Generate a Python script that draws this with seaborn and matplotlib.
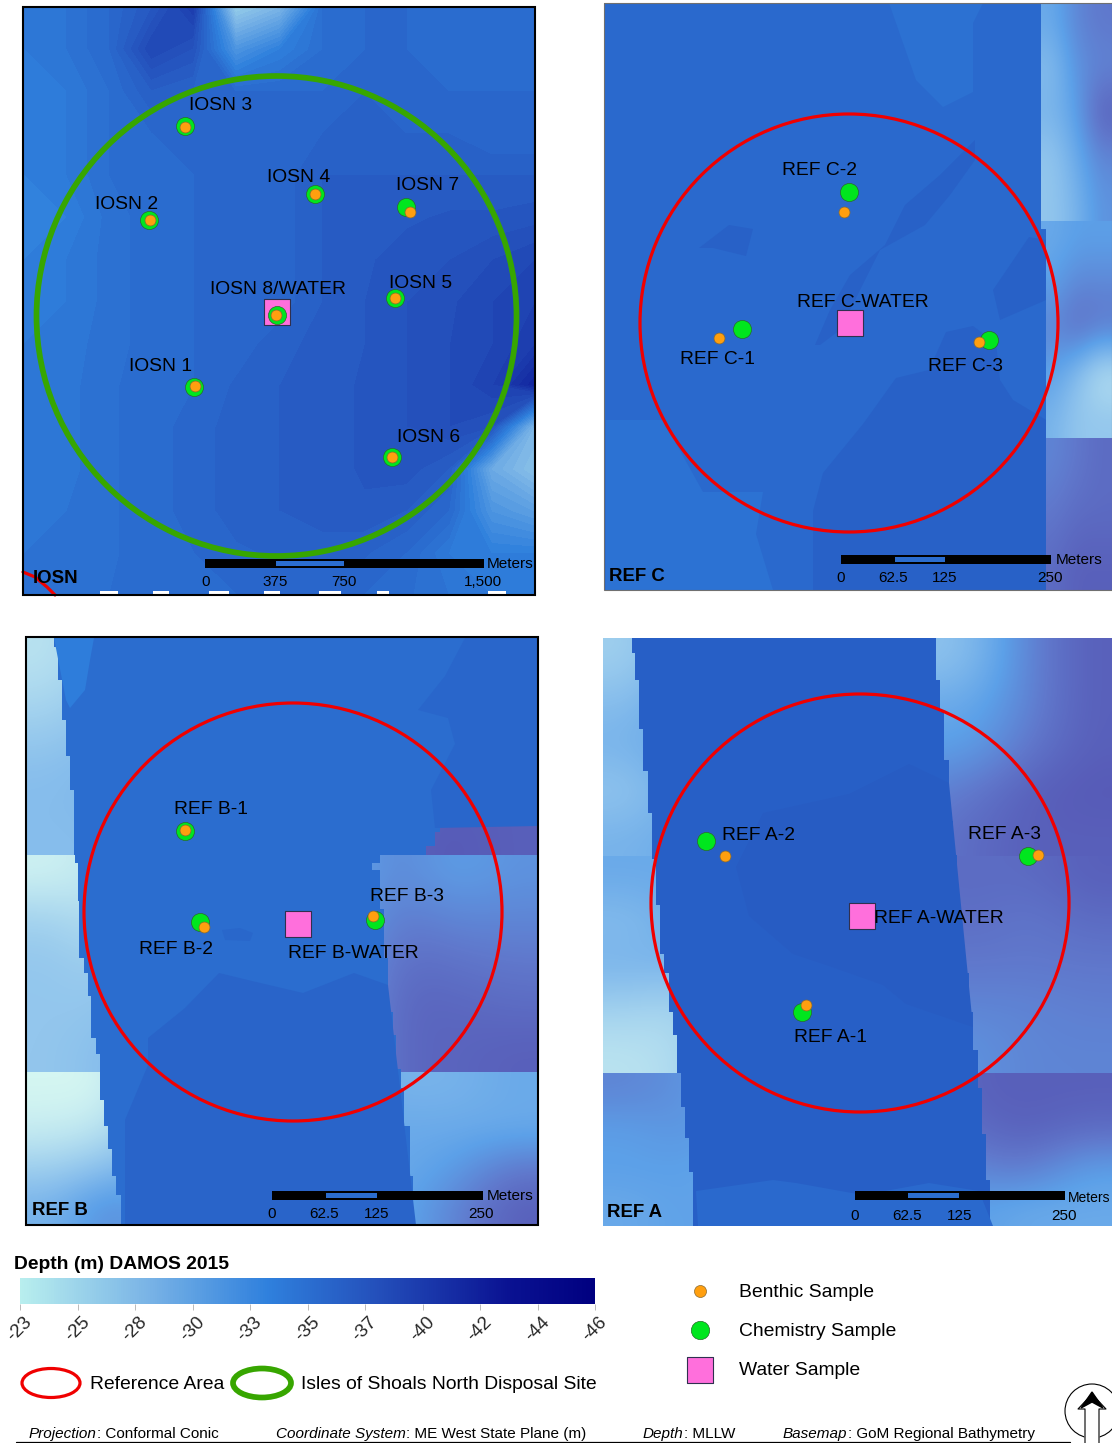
import numpy as np
import pandas as pd
import seaborn as sns
import matplotlib.pyplot as plt
from matplotlib.cm import ScalarMappable
from matplotlib.colors import LinearSegmentedColormap, Normalize
from matplotlib.patches import Circle, Ellipse, Rectangle

# Sample stations (page pixels)
STATIONS = ['IOSN 1', 'IOSN 2', 'IOSN 3', 'IOSN 4', 'IOSN 5', 'IOSN 6', 'IOSN 7', 'IOSN 8',
            'REF C-1', 'REF C-2', 'REF C-3', 'REF B-1', 'REF B-2', 'REF B-3',
            'REF A-1', 'REF A-2', 'REF A-3']
CHEM_X = [194, 149, 185, 315, 395, 392, 406, 277, 742, 849, 989, 185, 200, 375, 802, 706, 1028]
CHEM_Y = [387, 220, 126, 194, 298, 457, 207, 315, 329, 192, 340, 831, 922, 920, 1012, 841, 856]
BENTHIC_X = [195, 150, 185, 315, 395, 392, 410, 276, 719, 844, 979, 185, 204, 373, 806, 725, 1038]
BENTHIC_Y = [386, 220, 127, 194, 298, 457, 212, 315, 338, 212, 342, 830, 927, 916, 1005, 856, 855]
WATER_X = [277, 850, 298, 862]
WATER_Y = [312, 323, 924, 916]

LABEL_TEXT = ['IOSN 3', 'IOSN 4', 'IOSN 7', 'IOSN 2', 'IOSN 8/WATER', 'IOSN 5', 'IOSN 1', 'IOSN 6',
              'REF C-2', 'REF C-WATER', 'REF C-1', 'REF C-3',
              'REF B-1', 'REF B-3', 'REF B-2', 'REF B-WATER',
              'REF A-2', 'REF A-3', 'REF A-WATER', 'REF A-1']
LABEL_X = [221, 299, 428, 127, 278, 421, 161, 429, 820, 863, 718, 966, 211, 407, 176, 353, 758, 1004, 939, 831]
LABEL_Y = [104, 176, 184, 203, 288, 282, 365, 436, 169, 301, 358, 365, 808, 895, 948, 952, 834, 833, 917, 1036]

# Panels: name, left, right, top, bottom
PANEL_NAMES = ['IOSN', 'REF C', 'REF B', 'REF A']
PANEL_LEFT = [23, 604, 26, 603]
PANEL_RIGHT = [535, 1112, 538, 1112]
PANEL_TOP = [7, 3, 637, 638]
PANEL_BOTTOM = [595, 590, 1225, 1226]
NAME_X = [33, 609, 32, 607]
NAME_Y = [577, 575, 1209, 1211]

# Site circles: centre and radius
CIRCLE_X = [276.5, 849, 293, 860]
CIRCLE_Y = [316, 323, 912, 903]
CIRCLE_R = [240, 209, 209, 209]
CIRCLE_COLOR = ['#37a600', '#f00000', '#f00000', '#f00000']

# Scale bars
BAR_LEFT = [205, 841, 272, 855]
BAR_RIGHT = [484, 1051, 483, 1065]
BAR_TOP = [559, 555, 1191, 1191]
SEG_LEFT = [276, 895, 326, 908]
SEG_RIGHT = [344, 945, 377, 959]
SCALE_TEXT = [['0', '375', '750', '1,500'], ['0', '62.5', '125', '250'],
              ['0', '62.5', '125', '250'], ['0', '62.5', '125', '250']]
SCALE_X = [[206, 275, 344, 483], [841, 893, 945, 1050], [272, 324, 377, 481], [855, 907, 960, 1064]]
SCALE_Y = [580, 577, 1213, 1214]
METERS_X = [510, 1079, 510, 1089]
METERS_Y = [562, 559, 1195, 1196]
METERS_SIZE = [11.1, 11.1, 11.1, 10]

# Depth colour ramp
DEPTH_TICKS = [-23, -25.3, -27.6, -29.9, -32.2, -34.5, -36.8, -39.1, -41.4, -43.7, -46]
DEPTH_LABELS = ['-23', '-25', '-28', '-30', '-33', '-35', '-37', '-40', '-42', '-44', '-46']
ramp = LinearSegmentedColormap.from_list('depth', [
    (0.0, '#b8eeee'), (0.22, '#7ab4e6'), (0.43, '#2f80dd'), (0.62, '#2450bb'),
    (0.85, '#0a1292'), (1.0, '#000080')]).reversed()
regional = LinearSegmentedColormap.from_list('regional', [
    (0.0, '#d4f6f2'), (0.4, '#86bdec'), (0.6, '#5ca0e8'), (0.8, '#6078cc'), (1.0, '#5554b2')]).reversed()
depth_norm = Normalize(-46, -23)
regional_norm = Normalize(-37, -22)

# IOSN survey, depth grid (x = 23..535, y = 7..595)
IOSN_DEPTH = [
    [-33.5, -34, -35, -36.5, -39, -26, -28, -34.5, -35, -35, -34.5, -34.5, -35],
    [-33.5, -34, -35, -38, -37, -31, -33, -34.5, -35, -35, -34.5, -34.5, -34.5],
    [-33, -33.5, -34.5, -36, -35.5, -35, -35, -35, -35.5, -35, -35, -35, -35],
    [-33, -33.5, -34.5, -35, -35, -35, -35, -35.5, -35.5, -35.5, -35.5, -35, -35],
    [-33, -33.5, -34.5, -34.8, -35, -35, -35.2, -36, -36, -36, -36, -36, -36],
    [-32.5, -33, -34.2, -34.8, -35, -35, -35.2, -36, -36, -36.4, -36.6, -36.6, -36.8],
    [-33, -33.5, -34.2, -34.8, -35, -35, -35.2, -36, -36.4, -36.8, -37, -37.5, -38],
    [-33, -33.5, -34.2, -34.8, -35, -35, -35.2, -36, -36.5, -37, -37.4, -38, -38.5],
    [-33.5, -33.8, -34.2, -34.8, -35, -35.2, -35.8, -36.2, -36.5, -37, -37.5, -38, -39],
    [-33.5, -33.8, -34.4, -34.8, -35, -35.6, -36, -36.2, -36.6, -37, -37.5, -38.5, -41],
    [-33.5, -33.8, -34.4, -34.8, -35.2, -35.8, -36, -36.2, -36.6, -37, -37.5, -37, -28],
    [-33.5, -33.8, -34.4, -34.8, -35.2, -35.8, -36, -36.2, -36.6, -36.8, -36, -29, -27],
    [-33.8, -34, -34.4, -34.8, -35.2, -35.8, -36, -36.2, -36.4, -36, -35, -31, -30],
    [-34, -34, -34.4, -34.8, -35, -35.4, -35.6, -35.8, -35.6, -35, -33.5, -33, -33],
    [-34.5, -34.5, -34.5, -34.6, -34.8, -35, -35, -35, -35, -34.6, -34, -33.5, -33.5],
]
# White no-data specks along the bottom of the IOSN panel
SPECK_X = [100, 153, 209, 264, 319, 377, 488]
SPECK_W = [18, 16, 20, 16, 22, 12, 18]

# Regional bathymetry tiles: top, bottom, depth rows
REFC_STRIP_X = (1041, 1112)
REFC_TILE_TOPS = [3, 221, 438]
REFC_TILE_BOTTOMS = [221, 438, 590]
REFC_TILES = [
    [[-30, -33, -34], [-28, -32, -33], [-29, -31, -36], [-27, -30, -33], [-27, -29, -32]],
    [[-30, -31, -31], [-31, -33, -33], [-33, -35, -34], [-31, -28, -24], [-29, -27, -27]],
    [[-33, -34, -35], [-34, -35, -35], [-35, -36, -36]],
]
REFB_TILE_TOPS = [637, 855, 1072]
REFB_TILE_BOTTOMS = [855, 1072, 1225]
REFB_TILES = [
    [[-24, -27, -30, -30, -30, -30, -30, -35, -35], [-26, -28, -30, -30, -30, -30, -30, -35, -35],
     [-28, -29, -30, -30, -30, -30, -35, -36, -36], [-28, -28, -30, -30, -30, -30, -36, -36.5, -36]],
    [[-22.5, -24, -30, -30, -30, -30, -33, -31, -32], [-26, -24, -30, -30, -30, -30, -34, -33, -33],
     [-27, -26, -30, -30, -30, -30, -35, -34.5, -34], [-27, -27, -30, -30, -30, -30, -35.5, -35.5, -35],
     [-27, -28, -30, -30, -30, -30, -35.5, -35.5, -36]],
    [[-22, -22, -30, -30, -30, -30, -29, -29, -30], [-23, -24, -30, -30, -30, -30, -30, -30, -30],
     [-26, -28, -30, -30, -30, -30, -30, -31, -34], [-29, -33, -30, -30, -30, -30, -30, -33, -36]],
]
REFA_TILE_TOPS = [638, 856, 1073]
REFA_TILE_BOTTOMS = [856, 1073, 1226]
REFA_TILES = [
    [[-26, -30, -30, -30, -30, -27, -28, -33, -36], [-28, -31, -30, -30, -30, -30, -30, -33, -36],
     [-29, -31, -30, -30, -30, -31, -31, -34, -36], [-27, -30, -30, -30, -30, -33, -34, -36, -36.5],
     [-29, -30, -30, -30, -30, -34, -35, -36, -36]],
    [[-30, -30, -30, -30, -30, -35, -35, -35, -36], [-28, -30, -30, -30, -30, -34, -35, -34, -35],
     [-29, -29, -30, -30, -30, -34, -34, -34, -34], [-26, -25, -30, -30, -30, -33, -33, -33, -33.5],
     [-24, -25, -30, -30, -30, -31, -32, -33, -33]],
    [[-33, -32, -30, -30, -30, -33, -36, -36, -36], [-31, -32, -30, -30, -30, -33, -35, -36, -35],
     [-31, -31, -30, -30, -30, -31, -33, -34, -31], [-30, -31, -30, -30, -30, -31, -31, -30, -30]],
]

# Multibeam swath edges, stepped
REFC_LEFT_Y = [3, 590]
REFC_LEFT_X = [604, 604]
REFC_RIGHT_Y = [3, 229, 590]
REFC_RIGHT_X = [1041, 1046, 1046]
REFB_LEFT_Y = [637, 647, 668, 680, 702, 720, 741, 756, 775, 790, 821, 855, 863, 901, 958, 973, 996, 1019, 1038, 1054, 1080, 1100, 1126, 1149, 1176, 1195, 1225]
REFB_LEFT_X = [54, 58, 58, 62, 62, 66, 66, 70, 70, 74, 74, 75, 78, 79, 84, 88, 91, 91, 96, 100, 100, 104, 108, 112, 116, 121, 121]
REFB_RIGHT_Y = [637, 826, 832, 846, 855, 863, 870, 909, 958, 1012, 1035, 1069, 1088, 1126, 1176, 1225]
REFB_RIGHT_X = [538, 440, 435, 426, 380, 372, 380, 384, 388, 393, 396, 401, 404, 410, 413, 416]
REFA_LEFT_Y = [638, 653, 680, 729, 771, 813, 859, 905, 954, 973, 1012, 1035, 1073, 1107, 1138, 1172, 1226]
REFA_LEFT_X = [632, 635, 639, 643, 648, 652, 656, 660, 664, 669, 673, 677, 681, 685, 689, 693, 698]
REFA_RIGHT_Y = [638, 668, 680, 706, 712, 748, 760, 806, 821, 855, 897, 920, 951, 973, 1012, 1050, 1073, 1088, 1134, 1180, 1226]
REFA_RIGHT_X = [936, 936, 940, 940, 944, 944, 949, 949, 953, 957, 957, 961, 965, 969, 973, 978, 978, 982, 986, 990, 994]
SWATH_DEPTH = [-35.0, -34.6, -35.9]

# Slightly deeper or shallower patches inside the swaths
PATCH_DEPTH = [-34.3, -34.2, -35.7, -35.7, -35.7, -35.7, -33.2, -35.4, -35.3, -35.2, -36.2, -35.0]
PATCH_X = [
    [889, 916, 943, 973, 973, 983],
    [606, 663, 703, 763, 756, 773, 606],
    [813, 813, 823, 863, 896, 929, 946, 973, 996, 1000, 1013, 1033, 1046, 1046],
    [815, 830, 850, 885, 905, 940, 975, 975, 950, 925, 880, 860, 840, 820],
    [699, 729, 753, 746, 713],
    [993, 1029, 1046, 1046, 1000],
    [54, 94, 90, 85, 70, 66],
    [148, 185, 219, 252, 303, 354, 388, 416, 125, 125, 148],
    [418, 445, 465, 538, 538, 435, 431, 455, 448],
    [222, 240, 253, 250, 225],
    [736, 749, 793, 829, 883, 906, 973, 949, 909, 849, 763],
    [696, 773, 796, 863, 929, 979, 993, 698],
]
PATCH_Y = [
    [3, 80, 107, 92, 23, 3],
    [420, 420, 492, 492, 534, 590, 590],
    [590, 511, 473, 424, 378, 370, 332, 326, 343, 380, 400, 412, 420, 590],
    [345, 310, 275, 245, 205, 175, 140, 160, 195, 225, 250, 290, 330, 345],
    [248, 225, 229, 256, 248],
    [290, 237, 240, 300, 320],
    [638, 638, 660, 690, 708, 700],
    [1038, 1008, 973, 981, 993, 973, 985, 1225, 1225, 1120, 1065],
    [710, 676, 638, 638, 826, 828, 790, 744, 718],
    [930, 928, 933, 941, 940],
    [867, 916, 954, 966, 985, 1004, 1027, 783, 764, 794, 813],
    [1191, 1180, 1183, 1195, 1183, 1191, 1226, 1226],
]

# Corner of the neighbouring site showing in the IOSN panel
ARC_X = [23, 35, 47, 55]
ARC_Y = [572, 577, 587, 595]


def depth_color(depth):
    return ramp(depth_norm(depth))


def page_text(ax, x, y, text, size=13.9, **kw):
    kw.setdefault('ha', 'center')
    kw.setdefault('va', 'center')
    kw.setdefault('color', 'black')
    kw.setdefault('zorder', 12)
    return ax.text(x, y + 1.5, text, fontsize=size, **kw)


def draw_tiles(ax, left, right, tops, bottoms, tiles):
    for top, bottom, grid in zip(tops, bottoms, tiles):
        ax.imshow(grid, extent=(left, right, bottom, top), cmap=regional, norm=regional_norm,
                  interpolation='bicubic', aspect='auto', zorder=1)


def stepped(xs, ys):
    # edge that holds x until the next y, like the raster cells in the survey
    out_x = np.repeat(xs, 2)[:-1]
    out_y = np.repeat(ys, 2)[1:]
    return out_x, out_y


def draw_swath(ax, left_x, left_y, right_x, right_y, depth):
    lx, ly = stepped(left_x, left_y)
    rx, ry = stepped(right_x, right_y)
    ax.fill(np.r_[lx, rx[::-1]], np.r_[ly, ry[::-1]], color=depth_color(depth), lw=0, zorder=2)


sns.set_theme(style='white')
plt.rcParams['font.family'] = ['Liberation Sans', 'DejaVu Sans']

fig = plt.figure(figsize=(11.12, 14.43), dpi=100, facecolor='white')
ax = fig.add_axes([0, 0, 1, 1])
ax.set_axis_off()
ax.set_xlim(0, 1112)
ax.set_ylim(1443, 0)

# IOSN bathymetry is contoured, the REF panels sit on regional tiles with a swath over them
grid_x = np.linspace(PANEL_LEFT[0], PANEL_RIGHT[0], len(IOSN_DEPTH[0]))
grid_y = np.linspace(PANEL_TOP[0], PANEL_BOTTOM[0], len(IOSN_DEPTH))
ax.contourf(grid_x, grid_y, IOSN_DEPTH, levels=np.arange(-46, -22, 0.5), cmap=ramp,
            vmin=-46, vmax=-23, zorder=1)
for x, w in zip(SPECK_X, SPECK_W):
    ax.add_patch(Rectangle((x, 591), w, 4, color='white', lw=0, zorder=2))

draw_tiles(ax, REFC_STRIP_X[0], REFC_STRIP_X[1], REFC_TILE_TOPS, REFC_TILE_BOTTOMS, REFC_TILES)
draw_tiles(ax, PANEL_LEFT[2], PANEL_RIGHT[2], REFB_TILE_TOPS, REFB_TILE_BOTTOMS, REFB_TILES)
draw_tiles(ax, PANEL_LEFT[3], PANEL_RIGHT[3], REFA_TILE_TOPS, REFA_TILE_BOTTOMS, REFA_TILES)
draw_swath(ax, REFC_LEFT_X, REFC_LEFT_Y, REFC_RIGHT_X, REFC_RIGHT_Y, SWATH_DEPTH[0])
draw_swath(ax, REFB_LEFT_X, REFB_LEFT_Y, REFB_RIGHT_X, REFB_RIGHT_Y, SWATH_DEPTH[1])
draw_swath(ax, REFA_LEFT_X, REFA_LEFT_Y, REFA_RIGHT_X, REFA_RIGHT_Y, SWATH_DEPTH[2])
for px, py, depth in zip(PATCH_X, PATCH_Y, PATCH_DEPTH):
    ax.fill(px, py, color=depth_color(depth), lw=0, zorder=3)

# Panel frames, site circles and scale bars
frame_colors = ['black', '#707070', 'black', 'none']
frame_widths = [1.5, 0.8, 1.5, 0]
for i, name in enumerate(PANEL_NAMES):
    width = PANEL_RIGHT[i] - PANEL_LEFT[i]
    height = PANEL_BOTTOM[i] - PANEL_TOP[i]
    ax.add_patch(Rectangle((PANEL_LEFT[i], PANEL_TOP[i]), width, height, fill=False,
                           ec=frame_colors[i], lw=frame_widths[i], zorder=11))
    ax.add_patch(Circle((CIRCLE_X[i], CIRCLE_Y[i]), CIRCLE_R[i], fill=False, ec=CIRCLE_COLOR[i],
                        lw=4.1 if i == 0 else 2.3, zorder=6))
    ax.add_patch(Rectangle((BAR_LEFT[i], BAR_TOP[i]), BAR_RIGHT[i] - BAR_LEFT[i], 9, color='black', lw=0, zorder=7))
    ax.add_patch(Rectangle((SEG_LEFT[i], BAR_TOP[i] + 2), SEG_RIGHT[i] - SEG_LEFT[i], 5,
                           color=depth_color(-34.6), lw=0, zorder=8))
    for label, x in zip(SCALE_TEXT[i], SCALE_X[i]):
        page_text(ax, x, SCALE_Y[i], label, size=11)
    page_text(ax, METERS_X[i], METERS_Y[i], 'Meters', size=METERS_SIZE[i])
    page_text(ax, NAME_X[i], NAME_Y[i], name, size=13.4, ha='left', fontweight='bold')
sns.lineplot(x=ARC_X, y=ARC_Y, color='#f00000', lw=2.3, sort=False, ax=ax, zorder=6)

for text, x, y in zip(LABEL_TEXT, LABEL_X, LABEL_Y):
    page_text(ax, x, y, text)

# Sample marks
water = pd.DataFrame({'x': WATER_X, 'y': WATER_Y})
samples = pd.DataFrame({'station': STATIONS, 'chem_x': CHEM_X, 'chem_y': CHEM_Y,
                        'benthic_x': BENTHIC_X, 'benthic_y': BENTHIC_Y})
sns.scatterplot(data=water, x='x', y='y', marker='s', s=340, color='#ff6fdc', edgecolor='#303050',
                linewidth=0.8, ax=ax, zorder=9)
sns.scatterplot(data=samples, x='chem_x', y='chem_y', marker='o', s=170, color='#00e61e', edgecolor='#2a6a2a',
                linewidth=0.5, ax=ax, zorder=10)
sns.scatterplot(data=samples, x='benthic_x', y='benthic_y', marker='o', s=62, color='#ff9f0f', edgecolor='#8a6a30',
                linewidth=0.5, ax=ax, zorder=10.5)

# Legend on the right
LEGEND_TEXT = ['Benthic Sample', 'Chemistry Sample', 'Water Sample']
LEGEND_Y = [1291, 1330, 1369]
sns.scatterplot(x=[700], y=[1291], marker='o', s=75, color='#ff9f0f', edgecolor='#8a6a30', linewidth=0.5, ax=ax)
sns.scatterplot(x=[700], y=[1330], marker='o', s=175, color='#00e61e', edgecolor='#2a6a2a', linewidth=0.5, ax=ax)
sns.scatterplot(x=[699.5], y=[1370], marker='s', s=340, color='#ff6fdc', edgecolor='#303050', linewidth=0.8, ax=ax)
for text, y in zip(LEGEND_TEXT, LEGEND_Y):
    page_text(ax, 739, y, text, ha='left')

ax.add_patch(Ellipse((51, 1383), 58, 29, fill=False, ec='#f00000', lw=2.3))
ax.add_patch(Ellipse((262, 1383), 58, 29, fill=False, ec='#37a600', lw=4.1))
page_text(ax, 90, 1383, 'Reference Area', ha='left')
page_text(ax, 301, 1383, 'Isles of Shoals North Disposal Site', ha='left')
page_text(ax, 14, 1263, 'Depth (m) DAMOS 2015', ha='left', fontweight='bold', size=13.9)

# Footer: italic head, then the plain part on the same baseline
FOOT_HEAD = ['Projection', 'Coordinate System', 'Depth', 'Basemap']
FOOT_BODY = [': Conformal Conic', ': ME West State Plane (m)', ': MLLW', ': GoM Regional Bathymetry']
FOOT_X = [29, 276, 643, 783]
renderer = fig.canvas.get_renderer()
for head, body, x in zip(FOOT_HEAD, FOOT_BODY, FOOT_X):
    t = ax.text(x, 1438, head, fontsize=11, ha='left', va='baseline', fontstyle='italic', color='black', zorder=12)
    # pixels and data units are the same here
    end_x = t.get_window_extent(renderer).x1
    ax.text(end_x, 1438, body, fontsize=11, ha='left', va='baseline', color='black', zorder=12)
ax.plot([16, 1070], [1441.5, 1441.5], color='black', lw=0.9, zorder=12)

# North arrow
ax.add_patch(Circle((1092, 1411), 27, fill=False, ec='black', lw=0.8, zorder=12))
ax.fill([1085, 1085, 1078, 1092, 1106, 1099, 1099], [1443, 1409, 1409, 1394, 1409, 1409, 1443],
        color='white', zorder=13)
ax.plot([1085, 1085, 1078, 1092, 1106, 1099, 1099], [1443, 1409, 1409, 1394, 1409, 1409, 1443],
        color='black', lw=0.8, zorder=14)
ax.fill([1081, 1092, 1103, 1092], [1408, 1392, 1408, 1402], color='black', zorder=14)

ax.set_xlim(0, 1112)
ax.set_ylim(1443, 0)
ax.set_xlabel('')
ax.set_ylabel('')

# Colour bar
cax = fig.add_axes([20 / 1112, 1 - 1304 / 1443, 575 / 1112, 26 / 1443])
cbar = fig.colorbar(ScalarMappable(norm=depth_norm, cmap=ramp), cax=cax, orientation='horizontal')
cax.invert_xaxis()
cbar.outline.set_visible(False)
cbar.set_ticks(DEPTH_TICKS, labels=DEPTH_LABELS)
cax.tick_params(axis='x', length=4, width=0.5, color='#a0a0a0', labelsize=13.5, rotation=45, pad=3, bottom=True)

fig.savefig('out.png', dpi=100)
